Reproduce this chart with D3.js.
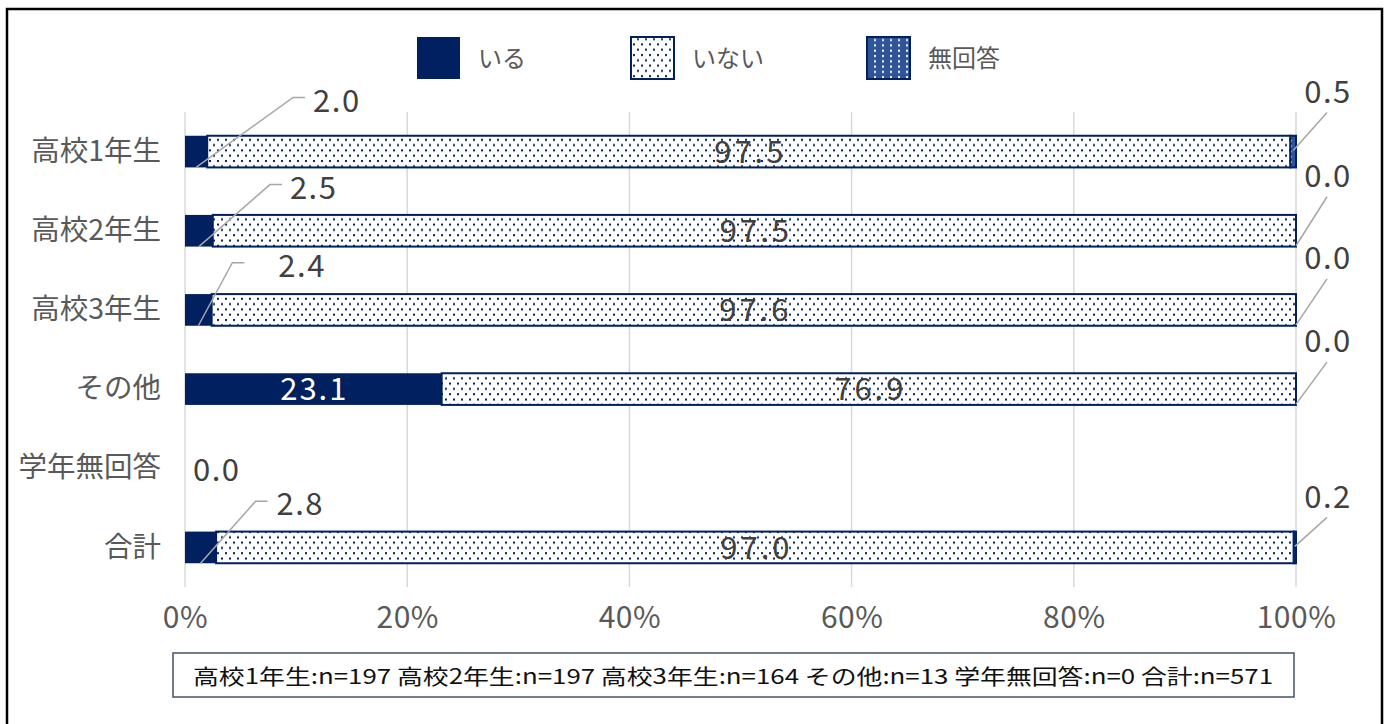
<!DOCTYPE html>
<html><head><meta charset="utf-8">
<script src="https://cdn.jsdelivr.net/npm/d3@7"></script>
<style>
html,body{margin:0;padding:0;background:#fff;}
svg{display:block;font-family:"Noto Sans CJK JP","Noto Sans",sans-serif;}
</style></head>
<body><svg id="chart" width="1389" height="724"></svg>
<script>
// ---- data ----
const categories = ["高校1年生","高校2年生","高校3年生","その他","学年無回答","合計"];
const seriesNames = ["いる","いない","無回答"];
const iru      = [2.0, 2.5, 2.4, 23.1, 0.0, 2.8];
const inai     = [97.5, 97.5, 97.6, 76.9, 0.0, 97.0];
const mukaitou = [0.5, 0.0, 0.0, 0.0, 0.0, 0.2];
const xTicks = [0,20,40,60,80,100];
const xTickLabels = ["0%","20%","40%","60%","80%","100%"];
const footnote = "高校1年生:n=197 高校2年生:n=197 高校3年生:n=164 その他:n=13 学年無回答:n=0 合計:n=571";

// ---- layout (label placement, not data) ----
const leftLabelLayout = [  // elbow offset & text start relative to segment bottom-center
  {ex:97, ey:-70, tx:117}, {ex:71, ey:-62, tx:91}, {ex:34, ey:-63, tx:80},
  {ex:0, ey:0, tx:0}, {ex:0, ey:0, tx:0}, {ex:55, ey:-62, tx:76}];
const rightLabelLayout = [ // line start dy from band center, text center dy
  {sy:-1, ty:-60}, {sy:15, ty:-55}, {sy:15, ty:-52}, {sy:15, ty:-48}, {sy:0,ty:0}, {sy:-1, ty:-51}];

const navy = "#002060", blue2 = "#2F5597";
const svg = d3.select("#chart");
const defs = svg.append("defs");
const p1 = defs.append("pattern").attr("id","dotsW").attr("patternUnits","userSpaceOnUse")
  .attr("width",8).attr("height",10.6);
p1.append("rect").attr("width",8).attr("height",10.6).attr("fill","#fff");
p1.append("rect").attr("x",1).attr("y",1).attr("width",2).attr("height",2).attr("fill",navy);
p1.append("rect").attr("x",5).attr("y",6.3).attr("width",2).attr("height",2).attr("fill",navy);
const p2 = defs.append("pattern").attr("id","dotsB").attr("patternUnits","userSpaceOnUse")
  .attr("width",8).attr("height",10.6);
p2.append("rect").attr("width",8).attr("height",10.6).attr("fill",blue2);
p2.append("rect").attr("x",2).attr("y",2).attr("width",2).attr("height",2).attr("fill","#fff");
p2.append("rect").attr("x",2).attr("y",7.3).attr("width",2).attr("height",2).attr("fill","#fff");

// frame
svg.append("rect").attr("x",7).attr("y",9).attr("width",1375).attr("height",740)
  .attr("fill","none").attr("stroke","#000").attr("stroke-width",2.5);

const x = d3.scaleLinear().domain([0,100]).range([185,1296]);
const y = d3.scaleBand().domain(categories).range([112,587]).paddingInner(0.6).paddingOuter(0.3);

// gridlines
svg.append("g").selectAll("line").data(xTicks).join("line")
  .attr("x1",d=>x(d)).attr("x2",d=>x(d)).attr("y1",112).attr("y2",587)
  .attr("stroke","#d9d9d9").attr("stroke-width",1.5);

// x axis labels
const xAxis = d3.axisBottom(x).tickValues(xTicks).tickFormat((d,i)=>xTickLabels[i]).tickSize(0).tickPadding(0);
const gx = svg.append("g").attr("transform","translate(0,606)").call(xAxis);
gx.select(".domain").remove();
gx.selectAll("text").attr("font-size",30).attr("fill","#595959").attr("dy","0.72em")
  .style("font-family","'Noto Sans CJK JP'").style("letter-spacing","0.5px");

// y axis labels
const yAxis = d3.axisLeft(y).tickSize(0).tickPadding(0);
const gy = svg.append("g").attr("transform","translate(161,0)").call(yAxis);
gy.select(".domain").remove();
gy.selectAll("text").attr("font-size",28.5).attr("fill","#595959")
  .style("font-family","'Noto Sans CJK JP'");

// stacked data
const rows = categories.map((c,i)=>({cat:c, vals:[iru[i],inai[i],mukaitou[i]], i}));
const stack = d3.stack().keys([0,1,2]).value((d,k)=>d.vals[k]);
const series = stack(rows);
const fills = [navy, "url(#dotsW)", "url(#dotsB)"];
const bh = y.bandwidth();

series.forEach((s,k)=>{
  svg.append("g").selectAll("rect").data(s.filter(d=>d[1]-d[0]>0)).join("rect")
    .attr("x",d=>x(d[0])).attr("y",d=>y(d.data.cat))
    .attr("width",d=>x(d[1])-x(d[0])).attr("height",bh)
    .attr("fill",fills[k]).attr("stroke",navy).attr("stroke-width",k===0?0:2);
});

const lab = svg.append("g").attr("font-size",31).attr("fill","#404040")
  .style("font-family","'Noto Sans CJK JP'").style("letter-spacing","1.5px");
const leader = svg.append("g").attr("stroke","#a6a6a6").attr("stroke-width",1.5).attr("fill","none");

rows.forEach(r=>{
  const i = r.i, yc = y(r.cat)+bh/2, yb = y(r.cat)+bh;
  const total = r.vals[0]+r.vals[1]+r.vals[2];
  if (total===0){
    lab.append("text").attr("x",x(0)+8).attr("y",yc+2).attr("dy","0.36em").text(d3.format(".1f")(r.vals[0]));
    return;
  }
  // いる
  const v0 = r.vals[0];
  if (v0 >= 10){
    lab.append("text").attr("x",x(v0/2)+1).attr("y",yc).attr("dy","0.36em").attr("text-anchor","middle")
      .attr("fill","#fff").style("letter-spacing","2px").text(d3.format(".1f")(v0));
  } else {
    const L = leftLabelLayout[i], ax = x(v0/2), ay = yb;
    leader.append("polyline").attr("points",[[ax,ay],[ax+L.ex,ay+L.ey],[ax+L.ex+12,ay+L.ey]].map(p=>p.join(",")).join(" "));
    lab.append("text").attr("x",ax+L.tx).attr("y",ay+L.ey+3).attr("dy","0.36em").text(d3.format(".1f")(v0));
  }
  // いない
  const v1 = r.vals[1];
  lab.append("text").attr("x",x(v0+v1/2)+1.5).attr("y",yc).attr("dy","0.36em").attr("text-anchor","middle")
    .style("letter-spacing","3px").text(d3.format(".1f")(v1));
  // 無回答
  const v2 = r.vals[2], R = rightLabelLayout[i];
  const sx = x(v0+v1+v2/2), sy = yc+R.sy, ty = yc+R.ty;
  leader.append("line").attr("x1",sx).attr("y1",sy).attr("x2",1327).attr("y2",ty+21);
  lab.append("text").attr("x",1328).attr("y",ty).attr("dy","0.36em").attr("text-anchor","middle")
    .text(d3.format(".1f")(v2));
});

// legend
const legX = [416, 630, 866];
const leg = svg.append("g");
seriesNames.forEach((n,k)=>{
  leg.append("rect").attr("x",legX[k]+1).attr("y",37).attr("width",43).attr("height",42)
    .attr("fill",fills[k]).attr("stroke",navy).attr("stroke-width",k===0?0:2);
  leg.append("text").attr("x",legX[k]+62).attr("y",58).attr("dy","0.36em")
    .attr("font-size",24).attr("fill","#595959").text(n);
});

// footnote box
svg.append("rect").attr("x",173).attr("y",653).attr("width",1121).attr("height",44)
  .attr("fill","#fff").attr("stroke","#44546A").attr("stroke-width",1.5);
svg.append("text").attr("x",193).attr("y",676).attr("dy","0.36em").attr("font-size",21)
  .attr("fill","#111").attr("textLength",1080).attr("lengthAdjust","spacingAndGlyphs").text(footnote);
</script></body></html>
